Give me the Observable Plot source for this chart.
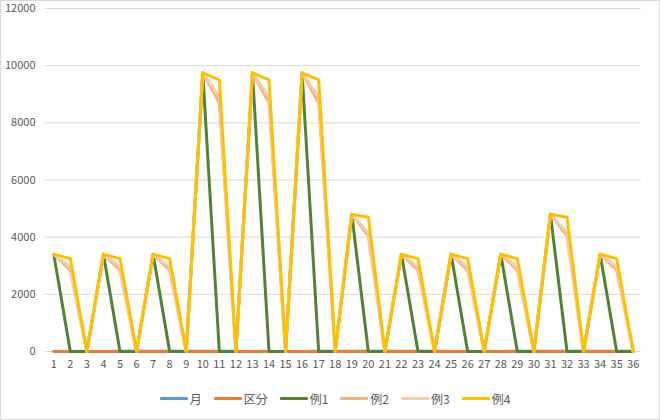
<!DOCTYPE html>
<html><head><meta charset="utf-8">
<script src="https://cdn.jsdelivr.net/npm/d3@7"></script>
<script src="https://cdn.jsdelivr.net/npm/@observablehq/plot@0.6"></script>
<style>
body{margin:0;background:#fff;font-family:"Noto Sans CJK JP","Noto Sans",sans-serif;}
#wrap{width:660px;height:420px;position:relative;border:1px solid #d9d9d9;box-sizing:border-box;}
#chart svg{overflow:visible;}
#legend{position:absolute;top:389px;left:5px;width:100%;display:flex;justify-content:center;gap:12px;font-size:12px;color:#595959;}
.item{display:flex;align-items:center;}
.sw{display:inline-block;width:28px;height:3px;margin-right:2px;border-radius:1px;}
</style></head>
<body><div id="wrap"><div id="chart"></div><div id="legend"></div></div>
<script>
const categories = [1,2,3,4,5,6,7,8,9,10,11,12,13,14,15,16,17,18,19,20,21,22,23,24,25,26,27,28,29,30,31,32,33,34,35,36];
const seriesNames = ["月","区分","例1","例2","例3","例4"];
const month = [1,2,3,4,5,6,7,8,9,10,11,12,1,2,3,4,5,6,7,8,9,10,11,12,1,2,3,4,5,6,7,8,9,10,11,12];
const kubun = [1,2,3,1,2,3,1,2,3,1,2,3,1,2,3,1,2,3,1,2,3,1,2,3,1,2,3,1,2,3,1,2,3,1,2,3];
const rei1 = [3400,0,0,3400,0,0,3400,0,0,9750,0,0,9750,0,0,9750,0,0,4800,0,0,3400,0,0,3400,0,0,3400,0,0,4800,0,0,3400,0,0];
const rei2 = [3400,2850,0,3400,2850,0,3400,2850,0,9750,8700,0,9750,8700,0,9750,8700,0,4800,4050,0,3400,2850,0,3400,2850,0,3400,2850,0,4800,4050,0,3400,2850,0];
const rei3 = [3400,2950,0,3400,2950,0,3400,2950,0,9750,8900,0,9750,8900,0,9750,8900,0,4800,4150,0,3400,2950,0,3400,2950,0,3400,2950,0,4800,4150,0,3400,2950,0];
const rei4 = [3400,3250,0,3400,3250,0,3400,3250,0,9750,9500,0,9750,9500,0,9750,9500,0,4800,4700,0,3400,3250,0,3400,3250,0,3400,3250,0,4800,4700,0,3400,3250,0];
const yTicks = [0,2000,4000,6000,8000,10000,12000];
const colors = ["#5B9BD5","#ED7D31","#548235","#F4B183","#F8CBAD","#FFC000"];

const allValues = [month,kubun,rei1,rei2,rei3,rei4];
const rows = s => categories.map((c,i)=>({x:c, y:allValues[s][i], series:seriesNames[s]}));

const marks = [
  Plot.gridY(yTicks,{stroke:"#d9d9d9",strokeOpacity:1}),
  Plot.axisY(yTicks,{tickSize:0,tickPadding:10,fontSize:11,color:"#595959",label:null,tickFormat:d=>String(d)}),
  Plot.axisX({tickSize:0,tickPadding:9,fontSize:11,color:"#595959",label:null}),
];
seriesNames.forEach((n,s)=>{
  marks.push(Plot.line(rows(s),{x:"x",y:"y",stroke:colors[s],strokeWidth:3,strokeLinejoin:"round",strokeLinecap:"round"}));
});

const chart = Plot.plot({
  width:658, height:376,
  marginLeft:44, marginRight:18, marginTop:7, marginBottom:26,
  style:{fontFamily:"'Noto Sans CJK JP','Noto Sans',sans-serif",color:"#595959",background:"transparent",overflow:"visible"},
  x:{type:"point",domain:categories,padding:0.5,round:false},
  y:{domain:[0,12000]},
  marks
});
document.getElementById("chart").appendChild(chart);

const lg = document.getElementById("legend");
seriesNames.forEach((n,s)=>{
  const d=document.createElement("div");d.className="item";
  d.innerHTML=`<span class="sw" style="background:${colors[s]}"></span><span>${n}</span>`;
  lg.appendChild(d);
});
</script></body></html>
